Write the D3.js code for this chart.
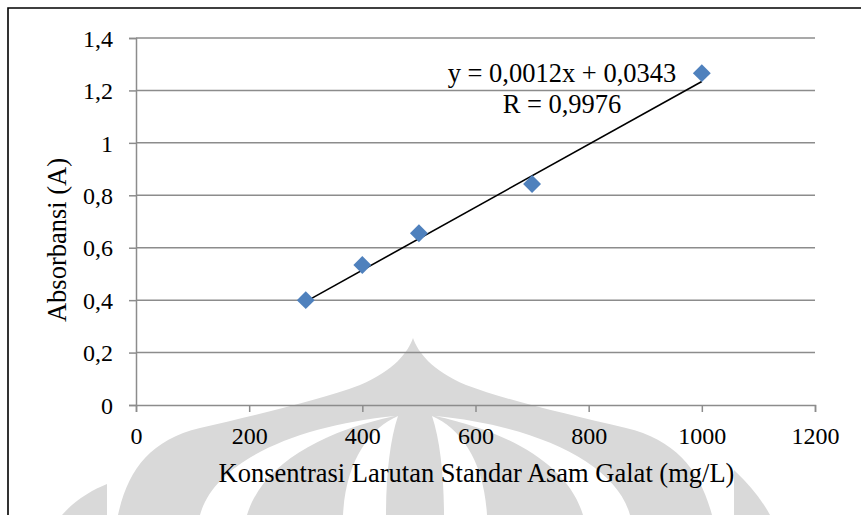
<!DOCTYPE html>
<html>
<head>
<meta charset="utf-8">
<script src="https://cdn.jsdelivr.net/npm/d3@7"></script>
<style>
  html, body { margin: 0; padding: 0; background: #fff; }
  svg { display: block; }
  text { font-family: "Liberation Serif", "Times New Roman", serif; fill: #000; }
</style>
</head>
<body>
<svg id="chart" width="861" height="515"></svg>
<script>
// Gallic acid standard curve: concentration (mg/L) vs absorbance
const concentrations = [300, 400, 500, 700, 1000];
const absorbances = [0.400, 0.534, 0.655, 0.843, 1.266];
const xTicks = [0, 200, 400, 600, 800, 1000, 1200];
const yTicks = [0, 0.2, 0.4, 0.6, 0.8, 1.0, 1.2, 1.4];
const slope = 0.0012;
const intercept = 0.0343;
const equationLines = ["y = 0,0012x + 0,0343", "R = 0,9976"];
const xTitle = "Konsentrasi Larutan Standar Asam Galat (mg/L)";
const yTitle = "Absorbansi (A)";

const svg = d3.select("#chart");
const W = 861, H = 515;
const plot = { left: 136, right: 815, top: 38, bottom: 405 };
const tickFont = 24, titleFont = 26.5;

// Faint emblem in the page background
const mark = svg.append("g").attr("fill", "#d9d9d9");
mark.append("path").attr("d",
  "M118,515 C128,470 150,440 200,428 C260,414 320,400 360,385 C395,370 408,352 413,338 " +
  "C418,352 431,370 466,385 C506,400 566,414 626,428 C676,440 700,470 712,515 Z");
mark.append("path").attr("d", "M62,515 C75,500 92,490 107,484 L107,515 Z");
mark.append("path").attr("d", "M734,470 C750,485 762,500 770,515 L734,515 Z");
const cut = svg.append("g").attr("fill", "#fff");
cut.append("path").attr("d", "M200,515 C215,460 300,425 395,416 C320,432 262,465 247,515 Z");
cut.append("path").attr("d", "M343,515 C346,460 370,428 398,416 C390,440 386,475 386,515 Z");
cut.append("path").attr("d", "M487,515 C484,460 460,428 432,416 C440,440 444,475 444,515 Z");
cut.append("path").attr("d", "M630,515 C615,460 530,425 435,416 C510,432 568,465 583,515 Z");

// Outer frame (top and left edges)
svg.append("path")
  .attr("d", `M8,${H} L8,8 L${W},8`)
  .attr("fill", "none").attr("stroke", "#000").attr("stroke-width", 1.6);

const x = d3.scaleLinear().domain([0, 1200]).range([plot.left, plot.right]);
const y = d3.scaleLinear().domain([0, 1.4]).range([plot.bottom, plot.top]);
const fmt = v => d3.format("~g")(+v.toFixed(1)).replace(".", ",");

// Horizontal gridlines
svg.append("g")
  .selectAll("line").data(yTicks.filter(v => v > 0)).join("line")
  .attr("x1", plot.left).attr("x2", plot.right)
  .attr("y1", d => y(d)).attr("y2", d => y(d))
  .attr("stroke", "#8c8c8c").attr("stroke-width", 1.5);

// Y axis
const yAxis = svg.append("g")
  .attr("transform", `translate(${plot.left},0)`)
  .call(d3.axisLeft(y).tickValues(yTicks).tickSize(7).tickPadding(16).tickFormat(fmt));
yAxis.select(".domain").attr("stroke", "#8c8c8c").attr("stroke-width", 1.5);
yAxis.selectAll(".tick line").attr("stroke", "#8c8c8c").attr("stroke-width", 1.5);
yAxis.selectAll(".tick text")
  .attr("font-size", tickFont).attr("font-family", "Liberation Serif").attr("fill", "#000")
  .attr("dy", "0.34em");

// X axis
const xAxis = svg.append("g")
  .attr("transform", `translate(0,${plot.bottom})`)
  .call(d3.axisBottom(x).tickValues(xTicks).tickSize(7).tickFormat(d3.format("d")));
xAxis.select(".domain").attr("stroke", "#8c8c8c").attr("stroke-width", 1.5);
xAxis.selectAll(".tick line").attr("stroke", "#8c8c8c").attr("stroke-width", 1.5);
xAxis.selectAll(".tick text")
  .attr("font-size", tickFont).attr("font-family", "Liberation Serif").attr("fill", "#000")
  .attr("y", 39).attr("dy", 0);

// Linear trendline across the measured range
const x0 = d3.min(concentrations), x1 = d3.max(concentrations);
svg.append("line")
  .attr("x1", x(x0)).attr("y1", y(slope * x0 + intercept))
  .attr("x2", x(x1)).attr("y2", y(slope * x1 + intercept))
  .attr("stroke", "#000").attr("stroke-width", 1.6);

// Diamond markers
svg.append("g")
  .selectAll("path").data(concentrations).join("path")
  .attr("d", d3.symbol().type(d3.symbolSquare).size(160))
  .attr("transform", (d, i) => `translate(${x(d)},${y(absorbances[i])}) rotate(45)`)
  .attr("fill", "#4f81bd");

// Regression equation
svg.append("g").selectAll("text").data(equationLines).join("text")
  .attr("x", 562).attr("y", (d, i) => 82 + i * 30.5)
  .attr("text-anchor", "middle").attr("font-size", titleFont)
  .text(d => d);

// Axis titles
svg.append("text")
  .attr("x", 476.5).attr("y", 482)
  .attr("text-anchor", "middle").attr("font-size", titleFont)
  .text(xTitle);
svg.append("text")
  .attr("transform", "translate(66,240) rotate(-90)")
  .attr("text-anchor", "middle").attr("font-size", titleFont)
  .text(yTitle);
</script>
</body>
</html>
